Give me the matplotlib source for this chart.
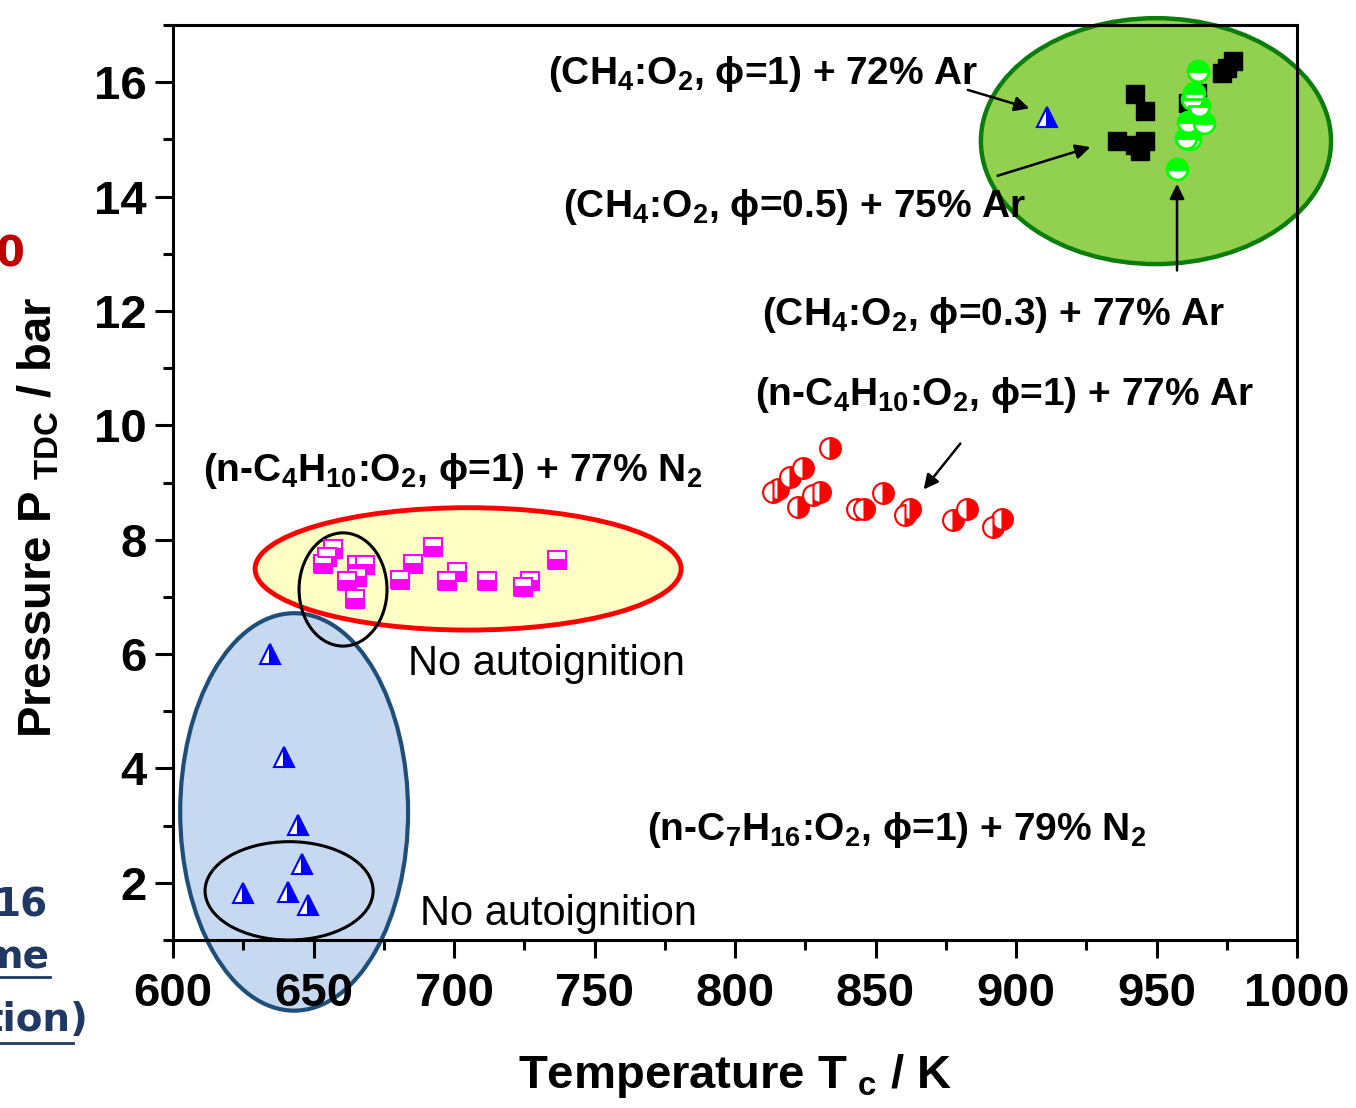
import matplotlib
matplotlib.use("Agg")
import matplotlib.pyplot as plt
from matplotlib.patches import Ellipse
from matplotlib.lines import Line2D
from matplotlib.ticker import MultipleLocator

plt.rcParams['font.family'] = ['Liberation Sans', 'DejaVu Sans']
plt.rcParams['mathtext.default'] = 'regular'

# --- data ---
# n-C7H16:O2, phi=1 + 79% N2  (blue half triangles)
hep_T = [634.5, 639.5, 644.5, 645.9, 624.9, 640.9, 648.0]
hep_P = [6.01, 4.20, 3.01, 2.33, 1.83, 1.84, 1.61]

# CH4:O2, phi=1 + 72% Ar
ch4_1_T = [911.0]
ch4_1_P = [15.40]

# CH4:O2, phi=0.5 + 75% Ar  (black squares)
ch4_05_T = [942.3, 945.9, 935.9, 942.3, 945.9, 944.1, 964.4, 961.2, 975.1, 977.2, 973.3]
ch4_05_P = [15.79, 15.49, 14.98, 14.90, 14.98, 14.79, 15.81, 15.63, 16.25, 16.37, 16.16]

# CH4:O2, phi=0.3 + 77% Ar  (green circles)
ch4_03_T = [964.8, 963.3, 962.5, 965.1, 961.2, 966.9, 961.9, 960.5, 957.3]
ch4_03_P = [16.19, 15.81, 15.70, 15.58, 15.30, 15.28, 15.00, 15.02, 14.49]

# n-C4H10:O2, phi=1 + 77% Ar  (red circles)
but_ar_T = [833.8, 824.2, 819.6, 815.3, 813.5, 830.2, 827.9, 822.4, 843.4, 846.0,
            852.7, 862.3, 860.5, 882.6, 877.6, 895.0, 891.8]
but_ar_P = [9.60, 9.25, 9.10, 8.89, 8.84, 8.84, 8.79, 8.58, 8.53, 8.53,
            8.82, 8.53, 8.44, 8.54, 8.35, 8.37, 8.23]

# n-C4H10:O2, phi=1 + 77% N2  (magenta squares)
but_n2_T = [656.9, 653.4, 654.8, 665.5, 668.3, 665.5, 661.9, 664.8, 692.5, 685.4,
            680.8, 701.1, 697.5, 711.7, 727.0, 724.6, 736.7]
but_n2_P = [7.83, 7.58, 7.70, 7.56, 7.56, 7.35, 7.27, 6.97, 7.88, 7.58,
            7.30, 7.44, 7.27, 7.27, 7.27, 7.18, 7.65]

# highlight ellipses: (center T, center P, width K, height bar)
ell_green = (949.8, 14.97, 124.6, 4.3)
ell_yellow = (705.0, 7.49, 151.6, 2.14)
ell_blue = (643.1, 3.24, 81.1, 6.95)
ell_noign_top = (660.5, 7.13, 31.3, 1.98)
ell_noign_bot = (641.3, 1.86, 59.8, 1.72)

fig = plt.figure(figsize=(13.56, 11.08), dpi=100)
ax = fig.add_axes([0.1276, 0.1516, 0.8289, 0.8258])

ax.add_patch(Ellipse(ell_green[:2], ell_green[2], ell_green[3], fc='#92d050', ec='#0a7d0a', lw=3.2, zorder=1, clip_on=False))
ax.add_patch(Ellipse(ell_yellow[:2], ell_yellow[2], ell_yellow[3], fc='#ffffc5', ec='#ff0000', lw=3.5, zorder=1))
ax.add_patch(Ellipse(ell_blue[:2], ell_blue[2], ell_blue[3], fc='#c6d9f0', ec='#1f4e79', lw=3, zorder=1, clip_on=False))
ax.add_patch(Ellipse(ell_noign_top[:2], ell_noign_top[2], ell_noign_top[3], fc='none', ec='black', lw=2.2, zorder=3))
ax.add_patch(Ellipse(ell_noign_bot[:2], ell_noign_bot[2], ell_noign_bot[3], fc='none', ec='black', lw=2.2, zorder=3))

# markers
ax.plot(hep_T, hep_P, ls='none', marker='^', ms=15, mfc='#0000ff', mfcalt='white',
        mec='#0000ff', mew=1.5, fillstyle='right', zorder=4)
ax.plot(ch4_1_T, ch4_1_P, ls='none', marker='^', ms=15, mfc='#0000ff', mfcalt='white',
        mec='#0000ff', mew=1.5, fillstyle='right', zorder=4)
ax.plot(ch4_05_T, ch4_05_P, ls='none', marker='s', ms=13, mfc='black', mec='black', zorder=4)
ax.plot(ch4_03_T, ch4_03_P, ls='none', marker='o', ms=15, mfc='#00ff00', mfcalt='white',
        mec='#00ff00', mew=2, fillstyle='top', zorder=5)
ax.plot(but_ar_T, but_ar_P, ls='none', marker='o', ms=15, mfc='#ff0000', mfcalt='white',
        mec='#ff0000', mew=1.5, fillstyle='right', zorder=4)
ax.plot(but_n2_T, but_n2_P, ls='none', marker='s', ms=13, mfc='#ff00ff', mfcalt='white',
        mec='#ff00ff', mew=1.5, fillstyle='bottom', zorder=4)

# labels and arrows
lab = dict(fontsize=28, fontweight='bold', ha='left', va='baseline', zorder=6)
ax.text(733.5, 15.965, r'(CH$_4$:O$_2$, ϕ=1) + 72% Ar', **lab)
ax.text(738.8, 13.65, r'(CH$_4$:O$_2$, ϕ=0.5) + 75% Ar', **lab)
ax.text(809.6, 11.76, r'(CH$_4$:O$_2$, ϕ=0.3) + 77% Ar', **lab)
ax.text(807.1, 10.36, r'(n-C$_4$H$_{10}$:O$_2$, ɸ=1) + 77% Ar', **lab)
ax.text(610.7, 9.02, r'(n-C$_4$H$_{10}$:O$_2$, ɸ=1) + 77% N$_2$', **lab)
ax.text(768.7, 2.75, r'(n-C$_7$H$_{16}$:O$_2$, ɸ=1) + 79% N$_2$', **lab)
ax.text(683.6, 5.64, 'No autoignition', fontsize=30, ha='left', va='baseline')
ax.text(687.9, 1.26, 'No autoignition', fontsize=30, ha='left', va='baseline')

arr = dict(arrowstyle='-|>', color='black', lw=1.8, mutation_scale=22)
ax.annotate('', xy=(905.7, 15.53), xytext=(881.9, 15.88), arrowprops=arr, zorder=6)
ax.annotate('', xy=(927.4, 14.88), xytext=(892.5, 14.35), arrowprops=arr, zorder=6)
ax.annotate('', xy=(957.3, 14.27), xytext=(957.3, 12.66), arrowprops=arr, zorder=6)
ax.annotate('', xy=(866.5, 8.84), xytext=(880.8, 9.72), arrowprops=arr, zorder=6)

# axes
ax.set_xlim(600, 1000)
ax.set_ylim(1, 17)
ax.xaxis.set_major_locator(MultipleLocator(50))
ax.xaxis.set_minor_locator(MultipleLocator(25))
ax.yaxis.set_major_locator(MultipleLocator(2))
ax.yaxis.set_minor_locator(MultipleLocator(1))
ax.set_yticks([2, 4, 6, 8, 10, 12, 14, 16])
ax.tick_params(which='major', direction='out', length=13, width=2.2, labelsize=34, pad=6)
ax.tick_params(axis='x', which='major', pad=10)
ax.tick_params(which='minor', direction='out', length=7, width=2.2)
for t in ax.get_xticklabels() + ax.get_yticklabels():
    t.set_fontweight('bold')
for s in ax.spines.values():
    s.set_linewidth(2.2)

ax.set_xlabel(r'Temperature T$_{\ c}$ / K', fontsize=34, fontweight='bold', labelpad=26)
ax.set_ylabel(r'Pressure P$_{\ TDC}$ / bar', fontsize=34, fontweight='bold')
ax.yaxis.set_label_coords(-0.099, 0.462)

# cut-off slide text at the left edge
fig.text(0.0184, 0.770, '0', color='#c00000', fontsize=30, fontweight='bold',
         family='DejaVu Sans', ha='right', va='center')
fig.text(0.0354, 0.183, '16', color='#1f3864', fontsize=28, fontweight='bold',
         family='DejaVu Sans', ha='right', va='center')
fig.text(0.0369, 0.136, 'me', color='#1f3864', fontsize=28, fontweight='bold',
         family='DejaVu Sans', ha='right', va='center')
fig.text(0.0649, 0.0794, 'tion)', color='#1f3864', fontsize=28, fontweight='bold',
         family='DejaVu Sans', ha='right', va='center')
fig.add_artist(Line2D([0, 0.0369], [0.1182, 0.1182], color='#1f3864', lw=2))
fig.add_artist(Line2D([0, 0.0538], [0.0587, 0.0587], color='#1f3864', lw=2))

fig.savefig('out.png', dpi=100)
